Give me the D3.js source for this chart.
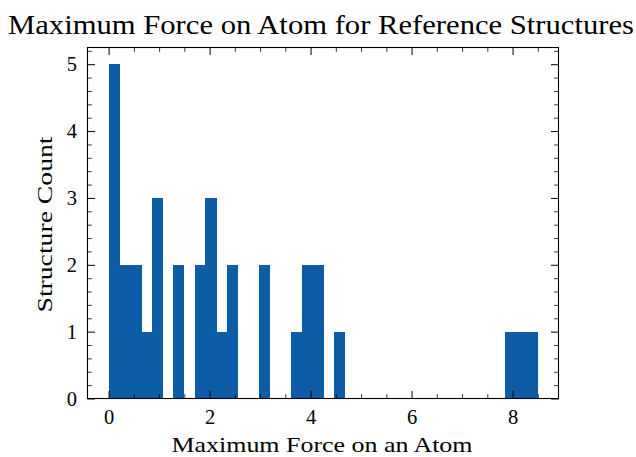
<!DOCTYPE html>
<html>
<head>
<meta charset="utf-8">
<script src="https://cdn.jsdelivr.net/npm/d3@7"></script>
<style>
  html, body { margin: 0; padding: 0; background: #fff; }
  svg text { font-family: "Liberation Serif", "DejaVu Serif", serif; fill: #000; }
</style>
</head>
<body>
<svg id="chart" width="636" height="457"></svg>
<script>
// ---- data ----
const binStart = 0.006;
const binEnd = 8.49;
const binCounts = [5,2,2,1,3,0,2,0,2,3,1,2,0,0,2,
                   0,0,1,2,2,0,1,
                   0,0,0,0,0,0,0,0,0,0,0,0,0,0,0,
                   1,1,1];
const xTicks = [0, 2, 4, 6, 8];
const yTicks = [0, 1, 2, 3, 4, 5];
const xDomain = [-0.418, 8.91];
const yDomain = [0, 5.25];
const titleText = "Maximum Force on Atom for Reference Structures";
const xLabel = "Maximum Force on an Atom";
const yLabel = "Structure Count";

(function () {
const svg = d3.select("#chart");
const mL = 87.5, mR = 558.5, mT = 47.5, mB = 398.5;
const x = d3.scaleLinear().domain(xDomain).range([mL, mR]);
const y = d3.scaleLinear().domain(yDomain).range([mB, mT]);

const nb = binCounts.length;
const bw = (binEnd - binStart) / nb;
const bins = binCounts.map((c, i) => ({x0: binStart + i * bw, x1: binStart + (i + 1) * bw, c}));

svg.append("g").attr("shape-rendering", "crispEdges")
  .selectAll("rect").data(bins.filter(d => d.c > 0)).join("rect")
  .attr("x", d => x(d.x0))
  .attr("width", d => x(d.x1) - x(d.x0) + 0.5)
  .attr("y", d => y(d.c))
  .attr("height", d => y(0) - y(d.c))
  .attr("fill", "#0C5DA5");

const majorLen = 7.5, minorLen = 4.3;
const xMinor = d3.range(0, 9.0, 0.5).filter(v => v >= xDomain[0] && v <= xDomain[1] && !xTicks.includes(v));
const yMinor = d3.range(0, 5.25, 0.2).map(v => +v.toFixed(2)).filter(v => !yTicks.includes(v));

function axisPair(scale, orient, major, minor, tickLabels, pad) {
  const ax = (orient === "bottom" ? d3.axisBottom : orient === "top" ? d3.axisTop : orient === "left" ? d3.axisLeft : d3.axisRight);
  const pos = orient === "bottom" ? `translate(0,${mB})` : orient === "top" ? `translate(0,${mT})` :
              orient === "left" ? `translate(${mL},0)` : `translate(${mR},0)`;
  const g = svg.append("g").attr("transform", pos)
    .call(ax(scale).tickValues(major).tickSize(-majorLen).tickPadding(pad || 0)
      .tickFormat(tickLabels ? d3.format("d") : () => ""));
  g.select(".domain").remove();
  g.selectAll("line").attr("stroke", "#000").attr("stroke-width", 1);
  g.selectAll("text").style("font-size", "20.5px");
  const gm = svg.append("g").attr("transform", pos)
    .call(ax(scale).tickValues(minor).tickSize(-minorLen).tickFormat(() => ""));
  gm.select(".domain").remove();
  gm.selectAll("line").attr("stroke", "#000").attr("stroke-width", 0.8);
  return g;
}
axisPair(x, "bottom", xTicks, xMinor, true, 11);
axisPair(x, "top", xTicks, xMinor, false);
axisPair(y, "left", yTicks, yMinor, true, 10.5);
axisPair(y, "right", yTicks, yMinor, false);

svg.append("rect").attr("x", mL).attr("y", mT).attr("width", mR - mL).attr("height", mB - mT)
  .attr("fill", "none").attr("stroke", "#000").attr("stroke-width", 1.1);

svg.append("text").attr("x", 321).attr("y", 33.5).attr("text-anchor", "middle")
  .attr("textLength", 626).attr("lengthAdjust", "spacingAndGlyphs")
  .style("font-size", "27px").text(titleText);
svg.append("text").attr("x", 322).attr("y", 452.3).attr("text-anchor", "middle")
  .attr("textLength", 301).attr("lengthAdjust", "spacingAndGlyphs")
  .style("font-size", "22px").text(xLabel);
svg.append("text").attr("transform", `translate(51.5,224.5) rotate(-90)`).attr("text-anchor", "middle")
  .attr("textLength", 176).attr("lengthAdjust", "spacingAndGlyphs")
  .style("font-size", "22px").text(yLabel);
})();
</script>
</body>
</html>
